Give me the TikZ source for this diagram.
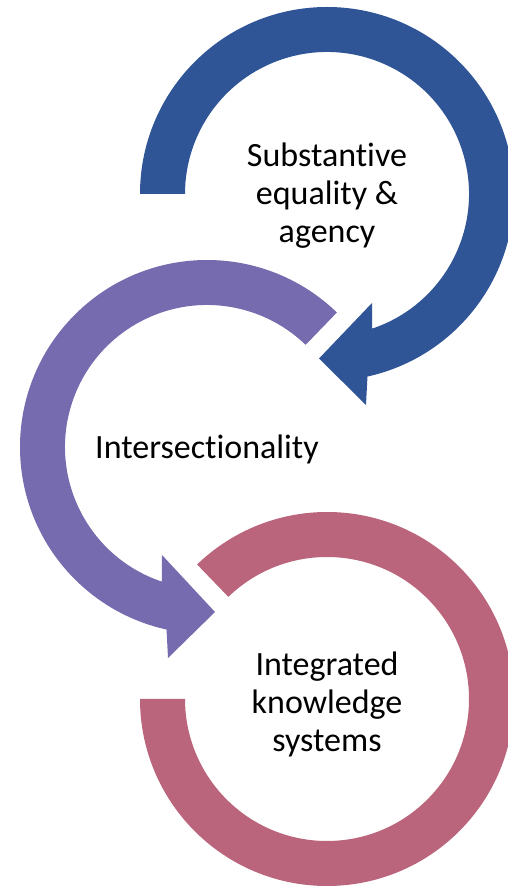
\documentclass[tikz,border=0pt]{standalone}
\usepackage{fontspec}
\setmainfont[Ligatures={NoCommon,NoContextual}]{Carlito}
\usetikzlibrary{calc}
\definecolor{cblue}{HTML}{2F5597}
\definecolor{cpurple}{HTML}{776BAF}
\definecolor{cpink}{HTML}{BA657B}
\begin{document}
\begin{tikzpicture}[x=1pt,y=1pt,
  lbl/.style={align=center,font=\fontsize{34}{38}\selectfont,text=black,inner sep=0pt}]
\useasboundingbox (0,0) rectangle (508,887);
\coordinate (B) at (327,693);
\coordinate (P) at (207,440);
\coordinate (K) at (327,188);
% pink ring (no head)
\fill[cpink] ($(K)+(180:187)$) arc[start angle=180,end angle=494,radius=187]
  -- ($(K)+(134:142)$) arc[start angle=494,end angle=180,radius=142] -- cycle;
% blue arrow
\fill[cblue] ($(B)+(180:187)$) arc[start angle=180,end angle=-77.5,radius=187]
  -- ($(B)+(39,-211)$) -- ($(B)+(-8,-164.5)$) -- ($(B)+(45,-109)$)
  -- ($(B)+(-71.5:142)$) arc[start angle=-71.5,end angle=180,radius=142] -- cycle;
% purple arrow
\fill[cpurple] ($(P)+(46:187)$) arc[start angle=46,end angle=257.5,radius=187]
  -- ($(P)+(-39,-211)$) -- ($(P)+(8,-165)$) -- ($(P)+(-45,-108)$)
  -- ($(P)+(251.5:142)$) arc[start angle=251.5,end angle=46,radius=142] -- cycle;
% labels
\node[lbl] (tb) at ($(B)+(0,-2)$) {Substantive\\equality \&\\agency};
\node[lbl] (tp) at ($(P)+(0,-2)$) {Intersectionality};
\node[lbl] (tk) at ($(K)+(0,-5)$) {Integrated\\knowledge\\systems};
\end{tikzpicture}
\end{document}
